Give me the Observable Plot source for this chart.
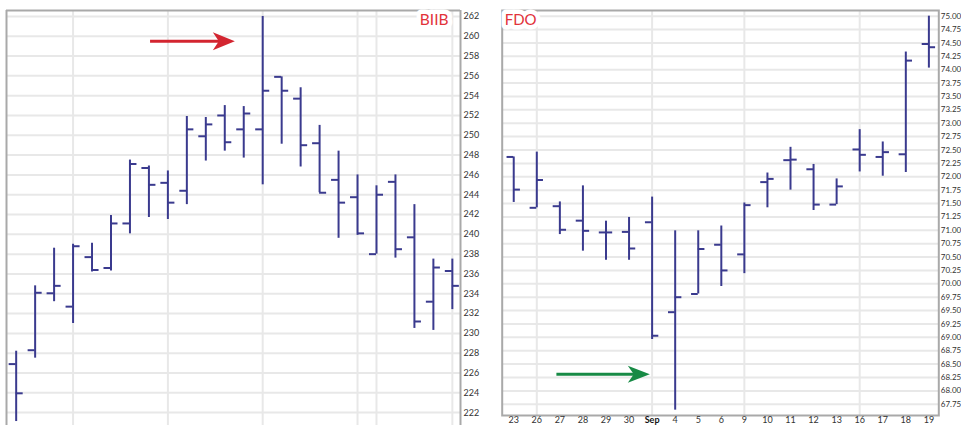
<!DOCTYPE html>
<html><head><meta charset="utf-8">
<script src="https://cdn.jsdelivr.net/npm/d3@7"></script>
<script src="https://cdn.jsdelivr.net/npm/@observablehq/plot@0.6"></script>
<style>
html,body{margin:0;padding:0;background:#fff;overflow:hidden}
#wrap{position:relative;width:961px;height:425px;overflow:hidden;background:#fff}
#left{position:absolute;left:0;top:0}
#right{position:absolute;left:490px;top:0}
</style></head><body>
<div id="wrap"><div id="left"></div><div id="right"></div></div>
<script>
// ---------- BIIB (left panel) ----------
const biibOpen  = [226.9, 228.3, 234.05, 232.7, 237.7, 236.6, 241.1, 246.7, 245.2, 244.4, 249.9, 252.0, 250.6, 250.6, 255.9, 253.7, 249.2, 245.5, 243.75, 238.0, 245.3, 239.7, 233.2, 236.3];
const biibHigh  = [228.2, 234.8, 238.6, 239.0, 239.1, 241.9, 247.5, 246.9, 246.4, 251.9, 251.8, 253.0, 252.9, 262.0, 255.9, 254.8, 251.0, 248.4, 246.0, 244.9, 246.0, 243.0, 237.5, 237.5];
const biibLow   = [221.1, 227.5, 233.2, 231.0, 236.2, 236.3, 240.05, 241.7, 241.5, 243.0, 247.4, 248.4, 247.7, 245.0, 249.1, 246.8, 244.2, 239.6, 239.9, 238.0, 237.6, 230.5, 230.3, 232.4];
const biibClose = [223.95, 234.1, 234.8, 238.8, 236.4, 241.1, 247.1, 245.0, 243.2, 250.6, 251.1, 249.3, 252.2, 254.5, 254.5, 249.0, 244.2, 243.2, 240.1, 244.0, 238.5, 231.2, 236.65, 234.8];
const biibTicks = [222, 224, 226, 228, 230, 232, 234, 236, 238, 240, 242, 244, 246, 248, 250, 252, 254, 256, 258, 260, 262];
const biibGridX = [3, 8, 13, 18, 19, 23];
const biibArrow = [{x1: 7.06, x2: 11.53, y: 259.5}];
const biibDomainX = [-0.51, 23.43];
const biibDomainY = [220.7, 262.6];

// ---------- FDO (right panel) ----------
const fdoLabels = ["23","26","27","28","29","30","Sep","4","5","6","9","10","11","12","13","16","17","18","19"];
const fdoOpen  = [72.37, 71.42, 71.45, 71.18, 70.96, 70.97, 71.15, 69.47, 69.81, 70.73, 70.55, 71.90, 72.31, 72.14, 71.48, 72.51, 72.37, 72.42, 74.48];
const fdoHigh  = [72.37, 72.46, 71.53, 71.83, 71.17, 71.24, 71.62, 70.99, 70.99, 71.08, 71.51, 72.07, 72.55, 72.23, 71.96, 72.88, 72.65, 74.33, 75.00];
const fdoLow   = [71.52, 71.42, 70.92, 70.61, 70.44, 70.44, 68.96, 67.64, 69.81, 69.95, 70.19, 71.42, 71.75, 71.37, 71.48, 72.09, 72.01, 72.08, 74.03];
const fdoClose = [71.76, 71.94, 71.01, 70.99, 70.96, 70.66, 69.03, 69.75, 70.65, 70.25, 71.47, 71.96, 72.32, 71.48, 71.82, 72.41, 72.46, 74.17, 74.42];
const fdoTicks = [67.75, 68.00, 68.25, 68.50, 68.75, 69.00, 69.25, 69.50, 69.75, 70.00, 70.25, 70.50, 70.75, 71.00, 71.25, 71.50, 71.75, 72.00, 72.25, 72.50, 72.75, 73.00, 73.25, 73.50, 73.75, 74.00, 74.25, 74.50, 74.75, 75.00];
const fdoGridX = [1, 6, 10, 15];
const fdoBold = [6];
const fdoArrow = [{x1: 1.85, x2: 5.90, y: 68.31}];
const fdoDomainX = [-0.50, 18.43];
const fdoDomainY = [67.54, 75.106];

// ---------- styles ----------
const barColor = "#3a3a8e";
const gridColor = "#e8e8e8";
const frameColor = "#a9a9a9";
const titleColor = "#e2323a";
const font = "Lato, 'Liberation Sans', sans-serif";

const biib = biibOpen.map((o, i) => ({i, open: o, high: biibHigh[i], low: biibLow[i], close: biibClose[i]}));
const fdo = fdoOpen.map((o, i) => ({i, open: o, high: fdoHigh[i], low: fdoLow[i], close: fdoClose[i]}));

const head = (len, half, notch) => ({
  draw(ctx) {
    ctx.moveTo(0, 0);
    ctx.lineTo(-len, -half);
    ctx.lineTo(-len + notch, 0);
    ctx.lineTo(-len, half);
    ctx.closePath();
  }
});

function ohlc(data, tl) {
  return [
    Plot.ruleX(data, {x: "i", y1: "low", y2: "high", stroke: barColor, strokeWidth: 2}),
    Plot.ruleY(data, {y: "open", x1: d => d.i - tl, x2: "i", stroke: barColor, strokeWidth: 2}),
    Plot.ruleY(data, {y: "close", x1: "i", x2: d => d.i + tl, stroke: barColor, strokeWidth: 2})
  ];
}

const left = Plot.plot({
  width: 490, height: 425,
  marginLeft: 6, marginRight: 30, marginTop: 10, marginBottom: 0,
  style: {fontFamily: font, fontSize: "9px", color: "#333", background: "transparent"},
  x: {type: "linear", domain: biibDomainX, axis: null},
  y: {type: "linear", domain: biibDomainY},
  marks: [
    Plot.ruleY(biibTicks, {stroke: gridColor, strokeWidth: 2}),
    Plot.ruleX(biibGridX, {stroke: gridColor, strokeWidth: 2}),
    Plot.ruleY([biibDomainY[1]], {stroke: frameColor, strokeWidth: 2}),
    Plot.ruleX(biibDomainX, {stroke: frameColor, strokeWidth: 2}),
    Plot.axisY(biibTicks, {anchor: "right", tickSize: 0, tickPadding: 3, tickFormat: d3.format("d"), fill: "#333"}),
    ...ohlc(biib, 0.37),
    Plot.link(biibArrow, {x1: "x1", x2: d => d.x2 - 0.45, y1: "y", y2: "y", stroke: "#d32530", strokeWidth: 3}),
    Plot.dot(biibArrow, {x: "x2", y: "y", symbol: head(22, 9, 6), fill: "#d32530", stroke: "none", r: 6}),
    Plot.text(["BIIB"], {frameAnchor: "top-right", dx: -12, dy: 3, lineAnchor: "top", textAnchor: "end", fontSize: 15.5, fill: titleColor, stroke: "white", strokeWidth: 9})
  ]
});
document.getElementById("left").appendChild(left);

const fdoRegular = fdo.map(d => d.i).filter(i => !fdoBold.includes(i));

const right = Plot.plot({
  width: 471, height: 425,
  marginLeft: 11.7, marginRight: 22.7, marginTop: 10, marginBottom: 10,
  style: {fontFamily: font, fontSize: "9px", color: "#333", background: "transparent", overflow: "visible"},
  x: {type: "linear", domain: fdoDomainX, axis: null},
  y: {type: "linear", domain: fdoDomainY},
  marks: [
    Plot.ruleY(fdoTicks, {stroke: gridColor, strokeWidth: 2}),
    Plot.ruleX(fdoGridX, {stroke: gridColor, strokeWidth: 2}),
    Plot.frame({stroke: frameColor, strokeWidth: 2}),
    Plot.axisY(fdoTicks, {anchor: "right", tickSize: 0, tickPadding: 2, tickFormat: d3.format(".2f"), fill: "#333", fontSize: 8, letterSpacing: "-0.2px"}),
    Plot.text(fdoRegular, {x: d => d, text: d => fdoLabels[d], frameAnchor: "bottom", lineAnchor: "top", dy: 1.5, fill: "#333"}),
    Plot.text(fdoBold, {x: d => d, text: d => fdoLabels[d], frameAnchor: "bottom", lineAnchor: "top", dy: 1.5, fill: "#111", fontWeight: "bold"}),
    ...ohlc(fdo, 0.29),
    Plot.link(fdoArrow, {x1: "x1", x2: d => d.x2 - 0.4, y1: "y", y2: "y", stroke: "#178a45", strokeWidth: 3}),
    Plot.dot(fdoArrow, {x: "x2", y: "y", symbol: head(22, 8.5, 6), fill: "#178a45", stroke: "none", r: 6}),
    Plot.text(["FDO"], {frameAnchor: "top-left", dx: 2.5, dy: 4, lineAnchor: "top", textAnchor: "start", fontSize: 15, fill: titleColor, stroke: "white", strokeWidth: 9})
  ]
});
document.getElementById("right").appendChild(right);
</script>
</body></html>
